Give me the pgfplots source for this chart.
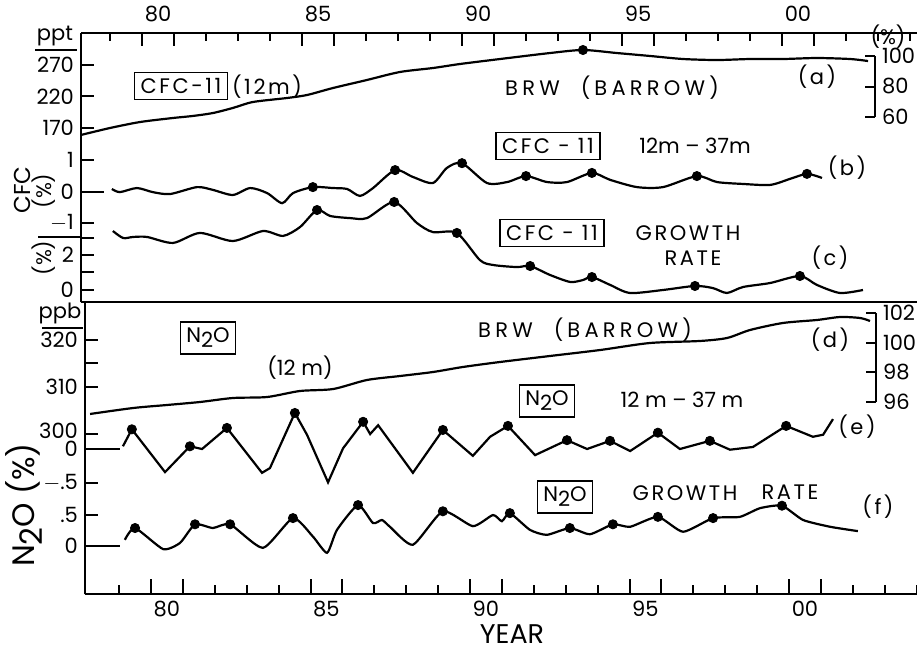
\documentclass[border=0pt]{standalone}
\usepackage{fontspec}
\setmainfont{Poppins}
\usepackage{pgfplots}
\pgfplotsset{compat=1.18}
\newcommand{\ls}{\addfontfeature{LetterSpace=12}}
\newcommand{\lsw}{\addfontfeature{LetterSpace=20}}
\newcommand{\NtwoO}{N\raisebox{-0.45ex}{2}O}

\begin{document}
\begin{tikzpicture}
\path[use as bounding box] (0,0) rectangle (458.5pt,325pt);
\pgfplotsset{
  base/.style={scale only axis, clip=false,
    /pgf/number format/assume math mode=true,
    axis line style={line width=1.2pt},
    tick style={line width=1pt, black},
    tick label style={font=\fontsize{10.5}{12}\selectfont},
    tick align=inside},
  topframe/.style={base, at={(40.5pt,174pt)}, anchor=south west, width=418pt, height=134.5pt, xmin=1978.094, xmax=2004.219},
  botframe/.style={base, at={(42.5pt,28pt)}, anchor=south west, width=416pt, height=145.5pt, xmin=1977.931, xmax=2004.013},
  yover/.style={hide x axis, axis y line*=left, major tick length=6.5pt},
  curve/.style={black, line width=1.1pt, smooth, tension=0.45, mark=none},
  sharp/.style={black, line width=1.1pt, mark=none},
  dots/.style={only marks, mark=*, mark size=2.3pt, black, mark options={fill=black}},
}
% ---------- top frame (CFC) ----------
\begin{axis}[topframe, ymin=0, ymax=1, axis x line*=top, axis y line*=left, ytick=\empty,
  xtick={1980.5,1985.5,1990.5,1995.5,2000.5}, xticklabels={80,85,90,95,00},
  major tick length=0pt, xticklabel style={yshift=2pt}]
\draw[line width=1.2pt] (rel axis cs:0,0) -- (rel axis cs:1,0);
\end{axis}
% (a) CFC-11 12 m, ppt
\begin{axis}[topframe, yover, ymin=-106.19, ymax=320.79, ytick={170,220,270}]
\addplot[curve] coordinates {(1978.09,158.9) (1979.0,170.0) (1979.94,179.5) (1980.97,185.9) (1981.59,189.1) (1982.22,193.8) (1982.84,201.8) (1983.47,211.3) (1984.53,217.6) (1985.16,222.4) (1985.97,233.5) (1987.03,246.2) (1988.06,258.9) (1989.09,265.2) (1989.94,271.6) (1991.19,279.5) (1992.75,289.0) (1993.78,293.8) (1994.84,289.0) (1995.88,284.3) (1996.91,279.5) (1997.97,277.9) (1999.0,279.5) (2000.03,279.5) (2001.09,281.1) (2002.13,279.5) (2002.69,276.3)};
\addplot[dots] coordinates {(1993.78,293.8)};
\end{axis}
% (b) CFC-11 12m-37m, %
\begin{axis}[topframe, yover, ymin=-3.508, ymax=5.032, ytick={-1,1}, yticklabels={$-$1,1},
  extra y ticks={0}, extra y tick labels={0}, extra y tick style={major tick length=11.5pt}]
\addplot[curve] coordinates {(1979.06,0.08) (1979.31,-0.02) (1979.84,0.11) (1980.34,-0.02) (1980.88,-0.08) (1981.72,0.14) (1982.22,0.05) (1982.84,-0.11) (1983.38,0.11) (1983.91,-0.05) (1984.38,-0.37) (1984.72,-0.05) (1985.34,0.14) (1985.97,0.11) (1986.41,0.08) (1986.81,-0.14) (1987.22,0.11) (1987.91,0.68) (1988.47,0.46) (1989.09,0.27) (1989.53,0.75) (1990.0,0.90) (1990.78,0.27) (1991.41,0.30) (1992.0,0.49) (1992.66,0.30) (1993.28,0.30) (1994.06,0.59) (1994.63,0.37) (1995.47,0.14) (1996.28,0.14) (1997.34,0.49) (1997.97,0.30) (1998.78,0.24) (1999.63,0.21) (2000.25,0.40) (2000.78,0.56) (2001.25,0.43)};
\addplot[dots] coordinates {(1985.34,0.14) (1987.91,0.68) (1990.0,0.90) (1992.0,0.49) (1994.06,0.59) (1997.34,0.49) (2000.78,0.56)};
\end{axis}
% (c) CFC-11 growth rate, %
\begin{axis}[topframe, yover, ymin=-0.686, ymax=14.686, ytick={0,1,2,3}, yticklabels={0,,2,}]
\addplot[curve] coordinates {(1979.09,3.37) (1979.41,2.97) (1979.72,3.03) (1980.16,3.03) (1980.97,2.69) (1981.81,3.26) (1982.84,2.80) (1983.78,3.37) (1984.41,3.09) (1984.94,3.60) (1985.47,4.57) (1985.88,4.23) (1986.5,4.11) (1987.03,4.11) (1987.88,5.03) (1988.59,3.83) (1989.09,3.31) (1989.84,3.26) (1990.56,1.71) (1990.97,1.43) (1991.72,1.31) (1992.13,1.37) (1992.75,0.86) (1993.38,0.46) (1993.78,0.57) (1994.06,0.74) (1994.63,0.29) (1995.25,-0.17) (1996.28,0.0) (1997.28,0.23) (1997.84,0.11) (1998.28,-0.17) (1998.78,0.17) (1999.63,0.40) (2000.56,0.80) (2001.09,0.29) (2001.81,-0.17) (2002.53,0.0)};
\addplot[dots] coordinates {(1985.47,4.57) (1987.88,5.03) (1989.84,3.26) (1992.13,1.37) (1994.06,0.74) (1997.28,0.23) (2000.56,0.80)};
\end{axis}
% right bracket for (a), %
\begin{axis}[base, at={(432.5pt,266.5pt)}, anchor=south west, width=5pt, height=30.5pt,
  xmin=0, xmax=1, ymin=60, ymax=100, hide x axis, axis y line*=right, ytick={60,80,100}, major tick length=5pt]
\end{axis}
% ---------- bottom frame (N2O) ----------
\begin{axis}[botframe, ymin=0, ymax=1, axis x line*=bottom, axis y line*=left, ytick=\empty,
  xtick={1980.5,1985.5,1990.5,1995.5,2000.5}, xticklabels={80,85,90,95,00},
  major tick length=0pt]
\end{axis}
% (d) N2O 12 m, ppb
\begin{axis}[botframe, yover, ymin=265.957, ymax=327.872, ytick={300,310,315,320}, yticklabels={\raisebox{3pt}{300},310,,320}]
\addplot[curve] coordinates {(1978.09,304.26) (1979.44,305.53) (1980.50,306.17) (1981.54,306.81) (1982.57,307.66) (1983.64,307.87) (1984.67,309.15) (1985.71,309.57) (1986.77,311.49) (1987.81,312.34) (1988.84,313.19) (1989.78,314.26) (1990.94,315.32) (1992.51,316.60) (1994.08,317.87) (1995.64,319.36) (1997.21,319.79) (1998.06,320.43) (1998.78,322.13) (1999.81,323.62) (2000.88,324.26) (2001.60,324.89) (2002.23,324.68) (2002.54,324.04)};
\end{axis}
% (e) N2O 12m-37m, %
\begin{axis}[botframe, yover, ymin=-2.132, ymax=2.147, ytick={-0.5}, yticklabels={$-$.5},
  extra y ticks={0}, extra y tick labels={\raisebox{-2pt}{0}}, extra y tick style={major tick length=17.5pt}]
\addplot[sharp] coordinates {(1979.12,0.04) (1979.40,0.29) (1980.44,-0.34) (1981.22,0.04) (1981.60,0.00) (1982.38,0.31) (1983.48,-0.35) (1983.73,-0.28) (1984.51,0.53) (1984.89,0.21) (1985.55,-0.49) (1986.02,0.01) (1986.65,0.40) (1986.87,0.22) (1987.12,0.35) (1988.21,-0.35) (1989.15,0.28) (1990.09,-0.10) (1990.63,0.18) (1991.19,0.34) (1992.04,-0.09) (1993.04,0.13) (1993.67,0.00) (1994.39,0.12) (1995.02,-0.03) (1995.89,0.24) (1996.58,0.00) (1997.52,0.12) (1998.15,-0.01) (1998.87,0.03) (1999.91,0.34) (2000.75,0.18) (2001.07,0.21) (2001.38,0.44)};
\addplot[dots] coordinates {(1979.40,0.29) (1981.22,0.04) (1982.38,0.31) (1984.51,0.53) (1986.65,0.40) (1989.15,0.28) (1991.19,0.34) (1993.04,0.13) (1994.39,0.12) (1995.89,0.24) (1997.52,0.12) (1999.91,0.34)};
\end{axis}
% (f) N2O growth rate, %
\begin{axis}[botframe, yover, ymin=-0.774, ymax=3.919, ytick={0.5}, yticklabels={.5},
  extra y ticks={0}, extra y tick labels={0}, extra y tick style={major tick length=17.5pt}]
\addplot[curve, tension=0.35] coordinates {(1979.18,0.10) (1979.50,0.29) (1980.38,-0.05) (1980.91,0.05) (1981.38,0.35) (1981.94,0.29) (1982.48,0.35) (1983.51,-0.03) (1984.45,0.45) (1985.08,0.15) (1985.52,-0.11) (1985.83,0.26) (1986.49,0.66) (1986.96,0.37) (1987.24,0.42) (1987.49,0.31) (1988.21,0.02) (1989.15,0.56) (1990.09,0.32) (1990.72,0.50) (1991.00,0.40) (1991.25,0.53) (1991.88,0.26) (1992.41,0.18) (1993.13,0.29) (1993.76,0.19) (1994.48,0.35) (1995.02,0.31) (1995.89,0.47) (1996.68,0.23) (1997.62,0.45) (1998.46,0.47) (1999.09,0.61) (1999.78,0.65) (2000.44,0.42) (2001.29,0.31) (2002.16,0.24)};
\addplot[dots] coordinates {(1979.50,0.29) (1981.38,0.35) (1982.48,0.35) (1984.45,0.45) (1986.49,0.66) (1989.15,0.56) (1991.25,0.53) (1993.13,0.29) (1994.48,0.35) (1995.89,0.47) (1997.62,0.45) (1999.78,0.65)};
\end{axis}
% right bracket for (d), %
\begin{axis}[base, at={(433pt,124pt)}, anchor=south west, width=5pt, height=44.5pt,
  xmin=0, xmax=1, ymin=96, ymax=102, hide x axis, axis y line*=right, ytick={96,98,100,102}, major tick length=5pt]
\end{axis}
% ---------- year tick marks and texts, placed in picture pixels ----------
\begin{scope}[x=0.5pt, y=-0.5pt, yshift=325pt, every node/.style={font=\fontsize{10.5}{12}\selectfont, inner sep=0pt},
  boxed/.style={draw, line width=0.8pt, inner sep=3pt}]
% top axis: 1980.0 at px 142, 32 px per year
\foreach \yr in {1979,1982,1983,1984,1987,1988,1989,1992,1993,1994,1997,1998,1999,2002,2003,2004}
  \draw[line width=1pt] ({142+32*(\yr-1980)},33) -- ++(0,8);
\foreach \yr in {1980,1981,1985,1986,1990,1991,1995,1996,2000,2001}
  \draw[line width=1pt] ({142+32*(\yr-1980)},33) -- ++(0,13);
% bottom axis: 1980.0 at px 151, 31.9 px per year
\foreach \yr in {1979,1982,1983,1984,1987,1988,1989,1992,1993,1994,1997,1998,1999,2002,2003,2004}
  \draw[line width=1pt] ({151+31.9*(\yr-1980)},594) -- ++(0,-9);
\foreach \yr in {1980,1981,1985,1986,1990,1991,1995,1996,2000,2001}
  \draw[line width=1pt] ({151+31.9*(\yr-1980)},594) -- ++(0,-15);
\node at (55,36) {ppt};
\draw[line width=1pt] (35,50) -- (77,50);
\node at (60,313) {ppb};
\draw[line width=1pt] (42,328) -- (83,328);
\node[rotate=90, font=\fontsize{11.5}{13}\selectfont] at (22,190) {CFC};
\node[rotate=90] at (44,191) {(\%)};
\node[rotate=90] at (44,258) {(\%)};
\draw[line width=1pt] (38,237) -- (80,237);
\node[rotate=90, font=\fontsize{15.5}{17}\selectfont] at (24,505) {\NtwoO\ (\%)};
\node[font=\fontsize{13.5}{15}\selectfont] at (512,634) {YEAR};
\node[boxed] at (181,86) {\ls CFC-11};
\node at (267,87) {\ls(12m)};
\node at (612,88) {\lsw BRW\quad(BARROW)};
\node at (817,77) {\ls(a)};
\node at (888,37) {(\%)};
\node[boxed] at (548,146) {\ls CFC - 11};
\node at (695,146) {12m -- 37m};
\node at (847,168) {\ls(b)};
\node[boxed] at (552,233) {\ls CFC - 11};
\node at (688,233) {\ls GROWTH};
\node at (693,258) {\ls RATE};
\node at (830,258) {\ls(c)};
\node[boxed] at (208,338) {\NtwoO};
\node at (300,368) {(12 m)};
\node at (585,330) {\lsw BRW\quad(BARROW)};
\node at (830,340) {\ls(d)};
\node[boxed] at (547,401) {\NtwoO};
\node at (682,400) {12 m -- 37 m};
\node at (857,427) {\ls(e)};
\node[boxed] at (565,497) {\NtwoO};
\node at (685,493) {\ls GROWTH};
\node at (790,492) {\ls RATE};
\node at (878,507) {\ls(f)};
\end{scope}
\end{tikzpicture}
\end{document}
